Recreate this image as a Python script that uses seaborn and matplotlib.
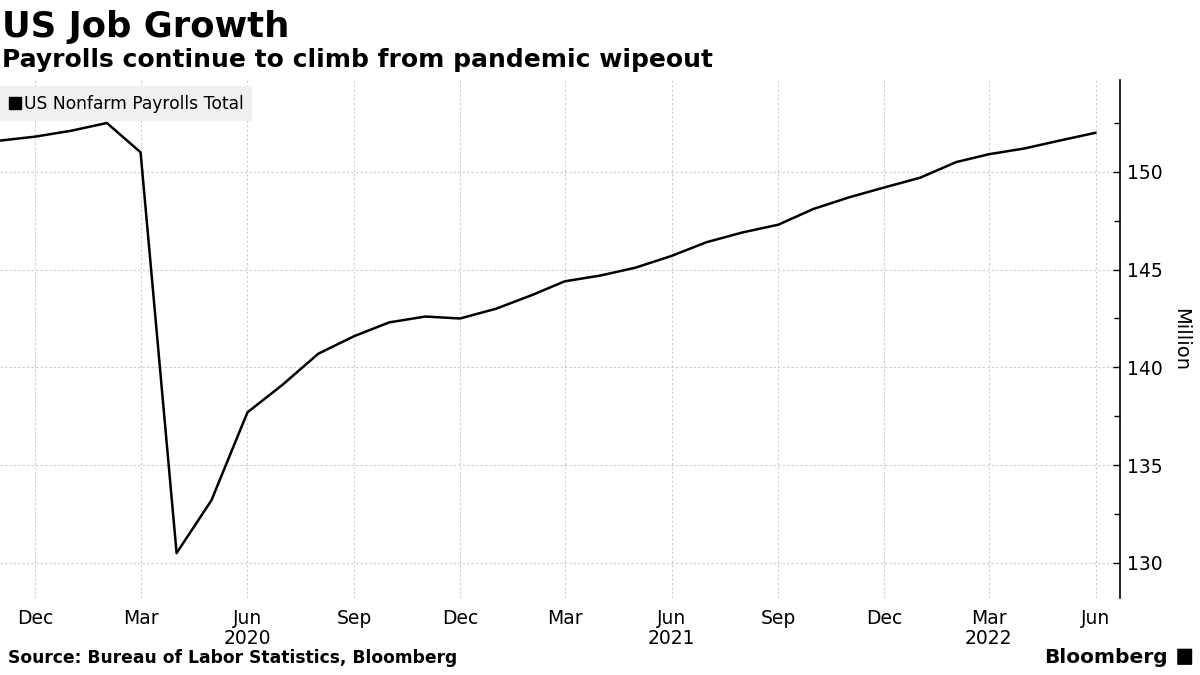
import matplotlib
matplotlib.use("Agg")
import matplotlib.pyplot as plt
import matplotlib.dates as mdates
from matplotlib.ticker import MultipleLocator
from matplotlib.patches import Rectangle, FancyBboxPatch
from matplotlib.lines import Line2D
import seaborn as sns
import pandas as pd

months = pd.date_range("2019-11-01", "2022-06-01", freq="MS")
payrolls = [151.6, 151.8, 152.1, 152.5, 151.0, 130.5, 133.2, 137.7, 139.1, 140.7,
            141.6, 142.3, 142.6, 142.5, 143.0, 143.7, 144.4, 144.7, 145.1, 145.7,
            146.4, 146.9, 147.3, 148.1, 148.7, 149.2, 149.7, 150.5, 150.9, 151.2,
            151.6, 152.0]
tick_months = ["2019-12-01", "2020-03-01", "2020-06-01", "2020-09-01", "2020-12-01",
               "2021-03-01", "2021-06-01", "2021-09-01", "2021-12-01", "2022-03-01",
               "2022-06-01"]
tick_labels = ["Dec", "Mar", "Jun\n2020", "Sep", "Dec", "Mar", "Jun\n2021", "Sep",
               "Dec", "Mar\n2022", "Jun"]
series_name = "US Nonfarm Payrolls Total"

df = pd.DataFrame({"date": months, "value": payrolls})

sns.set_theme(style="white")
plt.rcParams['font.family'] = ['DejaVu Sans']
plt.rcParams['text.color'] = 'black'
plt.rcParams['axes.labelcolor'] = 'black'
plt.rcParams['xtick.color'] = 'black'
plt.rcParams['ytick.color'] = 'black'

fig = plt.figure(figsize=(12, 6.75), dpi=100)
ax = fig.add_axes([0.0, 0.114, 0.9333, 0.7675])

sns.lineplot(data=df, x="date", y="value", ax=ax, color="black", linewidth=1.8)

ax.set_xlim(pd.Timestamp("2019-11-01"), pd.Timestamp("2022-06-22"))
ax.set_ylim(128.2, 154.7)

ax.set_xticks([pd.Timestamp(t) for t in tick_months])
ax.set_xticklabels(tick_labels, fontsize=13.5, color="black", linespacing=1.05)
ax.tick_params(axis="x", length=0, pad=8)

ax.yaxis.tick_right()
ax.yaxis.set_label_position("right")
ax.yaxis.set_major_locator(MultipleLocator(5))
ax.yaxis.set_minor_locator(MultipleLocator(2.5))
ax.tick_params(axis="y", which="major", direction="in", length=5, width=1,
               labelsize=13.5, labelcolor="black", pad=5, right=True, left=False)
ax.tick_params(axis="y", which="minor", direction="in", length=4, width=1,
               right=True, left=False)
ax.set_ylabel("Million", fontsize=14, rotation=270, labelpad=20, color="black")
ax.set_xlabel("")

for s in ["top", "left", "bottom"]:
    ax.spines[s].set_visible(False)
ax.spines["right"].set_color("black")
ax.spines["right"].set_linewidth(1.2)

ax.grid(True, which="major", axis="both", color="#cccccc", linestyle=(0, (2, 2)), linewidth=0.8)

handle = Line2D([], [], marker="s", color="black", linestyle="none", markersize=8)
leg = ax.legend([handle], [series_name], loc="upper left", bbox_to_anchor=(0.0, 0.988),
                frameon=True, fontsize=12.3, handletextpad=0.1, handlelength=0.8,
                borderpad=0.5, borderaxespad=0.0, fancybox=False)
leg.get_frame().set_facecolor("#f0f0f0")
leg.get_frame().set_edgecolor("none")
leg.get_frame().set_alpha(1)
for t in leg.get_texts():
    t.set_color("black")

fig.text(0.002, 0.945, "US Job Growth", fontsize=25.5, fontweight="bold",
         family=["DejaVu Sans Condensed", "Liberation Sans Narrow", "DejaVu Sans"],
         va="baseline", ha="left", color="black")
fig.text(0.002, 0.9, "Payrolls continue to climb from pandemic wipeout", fontsize=18,
         fontweight="bold",
         family=["DejaVu Sans Condensed", "Liberation Sans Narrow", "DejaVu Sans"],
         va="baseline", ha="left", color="black")
fig.text(0.007, 0.012, "Source: Bureau of Labor Statistics, Bloomberg", fontsize=12.3,
         fontweight="bold", va="bottom", ha="left", color="black")
fig.text(0.973, 0.012, "Bloomberg", fontsize=14.5, fontweight="bold", va="bottom", ha="right",
         color="black")
fig.patches.append(FancyBboxPatch((0.982, 0.016), 0.0105, 0.022, boxstyle="round,pad=0.001",
                                  transform=fig.transFigure, facecolor="black",
                                  edgecolor="none"))

fig.savefig("out.png", dpi=100, facecolor="white")
